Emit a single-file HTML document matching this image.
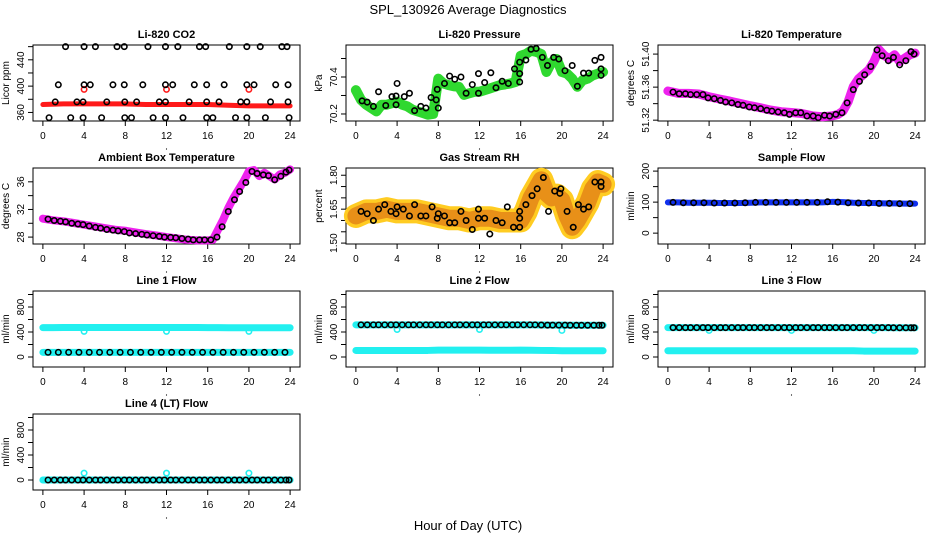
<!DOCTYPE html>
<html><head><meta charset="utf-8"><style>
html,body{margin:0;padding:0;background:#fff;}
svg{display:block;font-family:"Liberation Sans",sans-serif;}
</style></head><body>
<svg id="c" width="936" height="540" viewBox="0 0 936 540" xmlns="http://www.w3.org/2000/svg">
<text x="468" y="14" text-anchor="middle" font-size="13">SPL_130926  Average Diagnostics</text>
<text x="468" y="530" text-anchor="middle" font-size="13">Hour of Day (UTC)</text>
</svg>
<script>
// shared circle hours
const cH = [0.5,1.1,1.7,2.2,2.8,3.4,3.9,4.5,5.1,5.6,6.2,6.8,7.3,7.9,8.4,9.0,9.6,10.1,10.7,11.3,11.8,12.4,12.9,13.5,14.1,14.6,15.2,15.7,16.3,16.9,17.4,18.0,18.6,19.1,19.7,20.3,20.8,21.4,21.9,22.5,23.1,23.6,23.9];
const hourly = [0,1,2,3,4,5,6,7,8,9,10,11,12,13,14,15,16,17,18,19,20,21,22,23,24];
const xTicks = [0,4,8,12,16,20,24];

// CO2
const co2BandH = [0,2,4,6,8,10,12,14,16,18,20,22,24];
const co2BandV = [372,373,373,373,373,372,372,372,372,371,370,370,370];
const co2RedH = [4,12,20];
const co2RedV = [395,395,395];
const co2PtH = [2.2,4.0,5.1,7.2,7.9,10.2,11.9,13.1,15.2,15.8,18.1,19.8,21.1,23.2,23.7, 1.5,4.0,4.6,6.8,7.9,9.7,11.9,12.6,14.7,15.9,17.6,19.8,20.5,22.6,23.8, 1.2,3.3,3.9,6.2,7.95,9.1,11.3,11.9,14.2,15.9,17.1,19.2,19.8,22.1,23.8, 0.6,2.7,3.9,5.7,7.95,8.6,10.7,11.9,13.6,15.9,16.5,18.7,19.8,21.6,23.9];
const co2PtV = [460,460,460,460,460,460,460,460,460,460,460,460,460,460,460, 402,402,402,402,402,402,402,402,402,402,402,402,402,402,402, 376,376,376,376,376,376,376,376,376,376,376,376,376,376,376, 352,352,352,352,352,352,352,352,352,352,352,352,352,352,352];

// Pressure
const prH = [0,0.5,1,1.5,2,2.5,3,3.5,4,4.5,5,5.5,6,6.5,7,7.5,8,8.5,9,9.5,10,10.5,11,11.5,12,12.5,13,13.5,14,14.5,15,15.5,16,16.5,17,17.5,18,18.5,19,19.5,20,20.5,21,21.5,22,22.5,23,23.5,24];
const prV = [70.329,70.276,70.25,70.232,70.214,70.25,70.25,70.258,70.267,70.25,70.241,70.223,70.214,70.205,70.196,70.2,70.391,70.365,70.356,70.35,70.347,70.303,70.312,70.32,70.32,70.329,70.338,70.347,70.356,70.36,70.365,70.373,70.515,70.524,70.542,70.536,70.524,70.427,70.48,70.497,70.427,70.418,70.391,70.347,70.382,70.391,70.409,70.418,70.427];
const prPtH = [0.6,1.1,1.7,2.2,2.9,3.5,3.9,4.0,3.9,4.7,5.2,5.7,6.3,6.8,7.3,7.8,7.9,8.0,8.6,9.1,9.6,10.2,10.7,11.3,11.9,11.9,12.5,13.1,13.6,14.2,14.8,15.4,15.9,15.9,15.9,16.5,17.0,17.5,18.1,18.6,19.2,19.7,20.3,21.0,21.5,22.1,22.6,23.2,23.8,23.8,23.8];
const prPtV = [70.271,70.264,70.241,70.32,70.246,70.294,70.297,70.365,70.25,70.294,70.312,70.218,70.241,70.232,70.289,70.276,70.333,70.232,70.365,70.405,70.388,70.4,70.312,70.359,70.418,70.312,70.37,70.423,70.342,70.377,70.365,70.444,70.48,70.418,70.373,70.492,70.55,70.554,70.506,70.462,70.506,70.497,70.434,70.462,70.35,70.421,70.421,70.49,70.506,70.444,70.409];

// Li-820 Temperature
const tH = [0,1,2,3,4,5,6,7,8,9,10,11,12,13,14,15,16,16.5,17,17.5,18,18.5,19,19.5,20,20.5,21,21.5,22,22.5,23,23.5,24];
const tV = [51.3553,51.3525,51.3525,51.3517,51.3484,51.3456,51.3431,51.3403,51.3375,51.335,51.3322,51.3302,51.3293,51.3281,51.3253,51.3241,51.3253,51.3269,51.331,51.3423,51.3606,51.37,51.3756,51.3809,51.391,51.4053,51.3984,51.3943,51.3992,51.391,51.3951,51.3992,51.4012];
const tPtV = [51.354,51.352,51.352,51.351,51.351,51.351,51.347,51.346,51.344,51.342,51.341,51.339,51.338,51.336,51.335,51.334,51.332,51.331,51.33,51.329,51.327,51.329,51.329,51.325,51.325,51.323,51.326,51.325,51.327,51.329,51.341,51.357,51.367,51.375,51.385,51.405,51.398,51.392,51.396,51.387,51.392,51.403,51.400];

// Ambient
const aH = [0,1,2,3,4,5,6,7,8,9,10,11,12,13,14,15,16,16.5,17,17.5,18,18.5,19,19.5,20,20.5,21,21.5,22,22.5,23,23.5,24];
const aV = [30.67,30.43,30.28,30.04,29.79,29.55,29.31,29.07,28.92,28.68,28.44,28.24,28.0,27.81,27.61,27.52,27.52,27.61,29.07,30.52,32.22,33.67,34.89,36.1,37.55,37.7,36.83,37.31,36.83,36.34,37.07,37.31,37.8];
const aPtV = [30.6,30.4,30.3,30.2,30.0,29.9,29.8,29.6,29.4,29.3,29.1,29.0,28.9,28.8,28.6,28.5,28.4,28.3,28.2,28.1,28.0,27.95,27.9,27.8,27.7,27.6,27.6,27.6,27.6,28.0,29.5,31.7,33.4,34.6,35.9,37.5,37.2,37.0,36.9,36.3,36.8,37.4,37.7];

// RH
const rhH = [0,1,2,3,4,5,6,7,8,9,10,11,12,13,14,15,16,16.5,17,17.5,18,18.5,19,19.5,20,20.5,21,21.5,22,22.5,23,23.5,24];
const rhV = [1.62,1.64,1.64,1.65,1.64,1.64,1.64,1.63,1.62,1.61,1.61,1.60,1.61,1.61,1.60,1.60,1.60,1.64,1.70,1.74,1.78,1.72,1.70,1.71,1.69,1.62,1.57,1.60,1.64,1.68,1.74,1.77,1.76];
const rhPtH = [0.5,1.1,1.7,2.2,2.8,3.4,3.9,4.0,4.6,5.2,5.7,6.3,6.8,7.4,7.9,8.0,8.6,9.1,9.6,10.2,10.7,11.3,11.9,11.9,12.5,13.0,13.6,14.2,14.7,15.3,15.9,15.9,15.9,16.5,17.1,17.6,18.2,18.7,19.3,19.8,19.9,20.5,21.1,21.6,22.1,22.6,23.2,23.8,23.8];
const rhPtV = [1.64,1.63,1.60,1.65,1.67,1.64,1.63,1.66,1.65,1.62,1.67,1.62,1.62,1.66,1.61,1.63,1.62,1.59,1.59,1.64,1.60,1.56,1.65,1.61,1.61,1.54,1.60,1.59,1.66,1.57,1.57,1.64,1.61,1.67,1.71,1.74,1.79,1.64,1.73,1.72,1.74,1.64,1.57,1.67,1.65,1.66,1.77,1.75,1.77];

// Sample flow
const sfV = [99,99,98,98,98,97,97,97,98,99,99,99,99,99,99,99,101,100,98,97,97,96,96,95,95];

// Line flows
const l1Hi = [470,470,472,472,472,472,472,472,472,472,472,472,472,472,472,472,470,470,468,468,468,468,468,468,468];
const l1Lo = [75,75,75,75,75,75,75,75,75,75,75,75,75,75,75,75,75,75,75,75,75,75,75,75,75];
const l1DipV = [410,410,410];
const l2Hi = [515,515,515,515,515,515,515,515,515,515,515,515,515,515,515,515,515,515,512,510,510,508,508,508,508];
const l2Lo = [105,105,105,105,105,105,105,105,110,110,110,110,110,108,108,108,110,108,105,105,100,100,100,100,100];
const l2DipV = [440,440,425];
const l3Hi = [470,470,470,470,470,470,470,470,470,470,470,470,470,470,470,470,470,470,470,470,470,470,468,468,468];
const l3Lo = [100,100,100,100,100,100,100,100,100,100,100,100,100,100,100,100,100,100,100,95,95,95,95,95,95];
const l3DipV = [425,425,425];
const l4Lo = [0,0,0,0,0,0,0,0,0,0,0,0,0,0,0,0,0,0,0,0,0,0,0,0,0];
const l4DipV = [110,110,110];
const dipH = [4,12,20];

const NS = "http://www.w3.org/2000/svg";
const svg = document.getElementById('c');
function mk(tag, attrs, parent){ const e=document.createElementNS(NS,tag); for(const k in attrs) e.setAttribute(k,attrs[k]); (parent||svg).appendChild(e); return e; }

const colX = [33,346,658], rowY = [45,168,291,414], PW = 267, PH = 76;

function panel(name, col, row, title, ylab, ymin, ymax, yt, ylabels, draw){
  const L=colX[col], T=rowY[row];
  const g = mk('g',{});
  
  
  const xs = h => L + PW*(h+0.96)/25.92;
  const ys = v => T + PH - PH*(v-ymin)/(ymax-ymin);
  const box = mk('rect',{x:L,y:T,width:PW,height:PH,fill:'none',stroke:'#000','stroke-width':1},g);
  
  
  const tt = mk('text',{x:L+PW/2,y:T-7,'text-anchor':'middle','font-size':11,'font-weight':'bold'},g);
  tt.textContent = title;
  
  
  const xa = mk('g',{},g);
  
  
  mk('line',{x1:xs(0),x2:xs(24),y1:T+PH,y2:T+PH,stroke:'#000'},xa);
  xTicks.forEach(h=>{
    mk('line',{x1:xs(h),x2:xs(h),y1:T+PH,y2:T+PH+5,stroke:'#000'},xa);
    const t=mk('text',{x:xs(h),y:T+PH+18,'text-anchor':'middle','font-size':10},xa); t.textContent=h;
  });
  mk('circle',{cx:xs(12),cy:T+PH+28,r:0.6,fill:'#000'},xa);
  const ya = mk('g',{},g);
  
  
  mk('line',{x1:L,x2:L,y1:ys(yt[0]),y2:ys(yt[yt.length-1]),stroke:'#000'},ya);
  yt.forEach(v=>{ mk('line',{x1:L-5,x2:L,y1:ys(v),y2:ys(v),stroke:'#000'},ya); });
  ylabels.forEach(v=>{
    const x=L-9, y=ys(Number(v));
    const t=mk('text',{x:x,y:y,'text-anchor':'middle','font-size':10,transform:`rotate(-90 ${x} ${y})`},ya); t.textContent=v;
  });
  const yl = mk('text',{x:L-24,y:T+PH/2,'text-anchor':'middle','font-size':10,transform:`rotate(-90 ${L-24} ${T+PH/2})`},g);
  yl.textContent = ylab;
  
  
  const clip = 'clip-'+name;
  const cp = mk('clipPath',{id:clip},g); mk('rect',{x:L-3,y:T-3,width:PW+6,height:PH+6},cp);
  const dg = mk('g',{'clip-path':`url(#${clip})`},g);
  draw(dg, xs, ys);
}
function band(g, hs, vs, xs, ys, color, w, nm){
  const p = mk('polyline',{points:hs.map((h,i)=>xs(h)+','+ys(vs[i])).join(' '),fill:'none',stroke:color,'stroke-width':w,'stroke-linejoin':'round','stroke-linecap':'round'},g);
  
  
}
function pts(g, hs, vs, xs, ys, color, nm){
  const gg = mk('g',{},g);
  
  
  hs.forEach((h,i)=>{ mk('circle',{cx:xs(h),cy:ys(vs[i]),r:2.7,fill:'none',stroke:color,'stroke-width':1.6},gg); });
}

panel('co2-panel',0,0,'Li-820 CO2','Licor ppm',347,462.5,[360,380,400,420,440,460],['360','400','440'],(g,xs,ys)=>{
  band(g,co2BandH,co2BandV,xs,ys,'#ff1a1a',5,'co2-series');
  pts(g,co2RedH,co2RedV,xs,ys,'#ff1a1a','co2-red-points');
  pts(g,co2PtH,co2PtV,xs,ys,'#000','co2-points');
});
panel('pressure-panel',1,0,'Li-820 Pressure','kPa',70.162,70.573,[70.2,70.3,70.4,70.5],['70.2','70.4'],(g,xs,ys)=>{
  band(g,prH,prV,xs,ys,'#2fd82f',10,'pressure-series');
  pts(g,prPtH,prPtV,xs,ys,'#000','pressure-points');
});
panel('temperature-panel',2,0,'Li-820 Temperature','degrees C',51.319,51.411,[51.32,51.34,51.36,51.38,51.40],['51.32','51.36','51.40'],(g,xs,ys)=>{
  band(g,tH,tV,xs,ys,'#ee22ee',9,'temperature-series');
  pts(g,cH,tPtV,xs,ys,'#000','temperature-points');
});
panel('ambient-panel',0,1,'Ambient Box Temperature','degrees C',27.0,38.0,[28,30,32,34,36],['28','32','36'],(g,xs,ys)=>{
  band(g,aH,aV,xs,ys,'#ee22ee',8,'ambient-series');
  pts(g,cH,aPtV,xs,ys,'#000','ambient-points');
});
panel('rh-panel',1,1,'Gas Stream RH','percent',1.496,1.832,[1.50,1.55,1.60,1.65,1.70,1.75,1.80],['1.50','1.65','1.80'],(g,xs,ys)=>{
  band(g,rhH,rhV,xs,ys,'#ffcc22',24,'rh-series-outer');
  band(g,rhH,rhV,xs,ys,'#e89018',17,'rh-series');
  pts(g,rhPtH,rhPtV,xs,ys,'#000','rh-points');
});
panel('sample-flow-panel',2,1,'Sample Flow','ml/min',-35,210,[0,50,100,150,200],['0','100','200'],(g,xs,ys)=>{
  band(g,hourly,sfV,xs,ys,'#1030ee',6,'sample-flow-series');
  pts(g,hourly.slice(1).map(h=>h-0.5),sfV.slice(1),xs,ys,'#000','sample-flow-points');
});
const lt=[0,200,400,600,800,1000], ll=['0','400','800'];
panel('line1-panel',0,2,'Line 1 Flow','ml/min',-160,1056,lt,ll,(g,xs,ys)=>{
  band(g,hourly,l1Hi,xs,ys,'#22f0f0',7,'line1-high-series');
  band(g,hourly,l1Lo,xs,ys,'#22f0f0',7,'line1-low-series');
  pts(g,dipH,l1DipV,xs,ys,'#22f0f0','line1-dips');
  pts(g,hourly.slice(1).map(h=>h-0.5),l1Lo.slice(1),xs,ys,'#000','line1-points');
});
panel('line2-panel',1,2,'Line 2 Flow','ml/min',-160,1056,lt,ll,(g,xs,ys)=>{
  band(g,hourly,l2Hi,xs,ys,'#22f0f0',7,'line2-high-series');
  band(g,hourly,l2Lo,xs,ys,'#22f0f0',7,'line2-low-series');
  pts(g,dipH,l2DipV,xs,ys,'#22f0f0','line2-dips');
  pts(g,cH,cH.map((h,i)=>l2Hi[Math.round(h)]),xs,ys,'#000','line2-points');
});
panel('line3-panel',2,2,'Line 3 Flow','ml/min',-160,1056,lt,ll,(g,xs,ys)=>{
  band(g,hourly,l3Hi,xs,ys,'#22f0f0',7,'line3-high-series');
  band(g,hourly,l3Lo,xs,ys,'#22f0f0',7,'line3-low-series');
  pts(g,dipH,l3DipV,xs,ys,'#22f0f0','line3-dips');
  pts(g,cH,cH.map((h,i)=>l3Hi[Math.round(h)]),xs,ys,'#000','line3-points');
});
panel('line4-panel',0,3,'Line 4 (LT) Flow','ml/min',-160,1056,lt,ll,(g,xs,ys)=>{
  band(g,hourly,l4Lo,xs,ys,'#22f0f0',7,'line4-series');
  pts(g,dipH,l4DipV,xs,ys,'#22f0f0','line4-dips');
  pts(g,cH,cH.map((h,i)=>l4Lo[Math.round(h)]),xs,ys,'#000','line4-points');
});
</script>
</body></html>
